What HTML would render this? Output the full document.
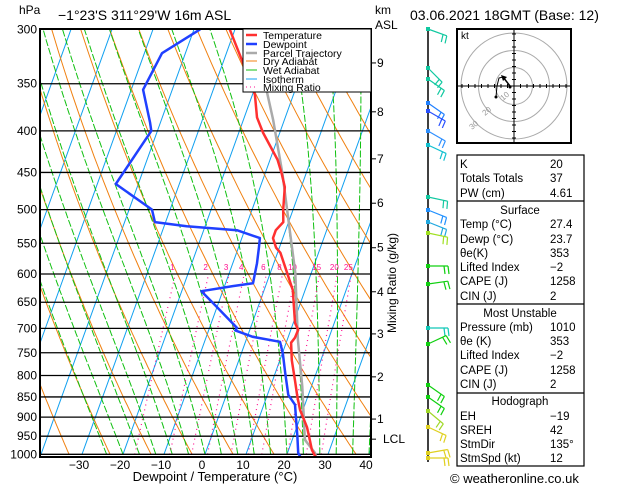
<!DOCTYPE html>
<html><head><meta charset="utf-8">
<style>
html,body{margin:0;padding:0;background:#fff;}
svg{display:block;font-family:"Liberation Sans",sans-serif;}
</style></head>
<body>
<svg id="chart" width="629" height="486" viewBox="0 0 629 486" xmlns="http://www.w3.org/2000/svg">
<defs><clipPath id="plotclip"><rect x="40" y="29" width="331" height="428"/></clipPath></defs>
<rect width="629" height="486" fill="#fff"/>
<g id="bg" clip-path="url(#plotclip)"></g>
<g id="iso"></g>
<g id="profiles" clip-path="url(#plotclip)"></g>
<rect x="40" y="29" width="331" height="428" fill="none" stroke="#000" stroke-width="2"/>
<g id="axes"></g>

<text x="19" y="14" font-size="12">hPa</text>
<text x="58" y="20" font-size="14">−1°23'S  311°29'W  16m ASL</text>
<text x="375" y="14" font-size="12">km</text>
<text x="375" y="29" font-size="12">ASL</text>
<text x="410" y="20" font-size="14">03.06.2021  18GMT  (Base: 12)</text>
<text x="396" y="283" font-size="12" transform="rotate(-90 396 283)" text-anchor="middle">Mixing Ratio  (g/kg)</text>
<text x="215" y="481" font-size="13" text-anchor="middle">Dewpoint  /  Temperature  (°C)</text>

<g>
<rect x="243" y="29" width="128" height="63" fill="#fff" stroke="#000" stroke-width="1"/>
<g font-size="10.5">
<line x1="246" y1="35" x2="257" y2="35" stroke="#ff3030" stroke-width="2.5"/>
<text x="263" y="39">Temperature</text>
<line x1="246" y1="44" x2="257" y2="44" stroke="#2040ff" stroke-width="2.5"/>
<text x="263" y="48">Dewpoint</text>
<line x1="246" y1="53" x2="257" y2="53" stroke="#aaa" stroke-width="2.5"/>
<text x="263" y="57">Parcel Trajectory</text>
<line x1="246" y1="61" x2="257" y2="61" stroke="#f08010" stroke-width="1"/>
<text x="263" y="65">Dry Adiabat</text>
<line x1="246" y1="70" x2="257" y2="70" stroke="#10c010" stroke-width="1"/>
<text x="263" y="74">Wet Adiabat</text>
<line x1="246" y1="79" x2="257" y2="79" stroke="#10a0f0" stroke-width="1"/>
<text x="263" y="83">Isotherm</text>
<line x1="246" y1="87" x2="257" y2="87" stroke="#ff1090" stroke-width="1" stroke-dasharray="1,3"/>
<text x="263" y="91">Mixing Ratio</text>
</g></g>

<line x1="428" y1="29" x2="428" y2="462" stroke="#000" stroke-width="1.5"/>
<g id="barbs"></g>

<g>
<rect x="457" y="29" width="114" height="114" fill="#fff" stroke="#000" stroke-width="2"/>
<g fill="none" stroke="#aaa" stroke-width="1">
<circle cx="514" cy="86" r="18.5"/>
<circle cx="514" cy="86" r="35.5"/>
<circle cx="514" cy="86" r="53"/>
</g>
<g id="hodoaxes" stroke="#000" stroke-width="1"></g>
<text x="461" y="39" font-size="10">kt</text>
<g font-size="8" fill="#999">
<text x="503" y="101" transform="rotate(-40 503 101)">10</text>
<text x="485" y="116" transform="rotate(-40 485 116)">20</text>
<text x="472" y="130" transform="rotate(-40 472 130)">30</text>
</g>
<polyline points="496,97 497,86 499,78 503,77" fill="none" stroke="#000" stroke-width="1"/>
<line x1="503" y1="77" x2="510" y2="86" stroke="#000" stroke-width="1.5"/>
<polygon points="501,75 507,77 503,81" fill="#000"/>
<circle cx="496" cy="97" r="1.5" fill="#000"/>
<circle cx="510" cy="87" r="1.5" fill="#000"/>
</g>

<g font-size="11.5">
<rect x="457" y="155" width="127" height="311" fill="none" stroke="#000" stroke-width="1.2"/>
<line x1="457" y1="201" x2="584" y2="201" stroke="#000" stroke-width="1.2"/>
<line x1="457" y1="304" x2="584" y2="304" stroke="#000" stroke-width="1.2"/>
<line x1="457" y1="393" x2="584" y2="393" stroke="#000" stroke-width="1.2"/>
<g id="tablerows"></g>
</g>
<text x="450" y="483" font-size="13">© weatheronline.co.uk</text>
</svg>
<script>
// ---- data ----
const pressureTicks = [300,350,400,450,500,550,600,650,700,750,800,850,900,950,1000];
const tempTicks = [-30,-20,-10,0,10,20,30,40];
const kmLabels = ["9","8","7","6","5","4","3","2","1","LCL"];
const kmPressures = [330,379,433,491,557,631,711,803,905,958];
const mixRatios = [1,2,3,4,6,8,10,15,20,25];
const tempP = [300,330,361,385,402,434,451,469,500,518,530,542,557,565,598,628,689,703,719,729,766,810,850,882,926,960,988,1010];
const tempT = [-31.3,-25.1,-19.4,-16.9,-14.1,-8.2,-6.0,-4.0,-2.4,-1.3,-2.4,-2.4,-0.8,0.7,4.1,7.0,10.4,11.8,11.7,11.2,12.9,15.4,17.5,19.3,22.5,24.3,25.7,27.4];
const dewP = [300,321,356,391,400,465,500,518,524,530,542,557,582,616,621,630,659,699,704,717,727,751,794,845,869,952,996,1010];
const dewT = [-38.5,-45.7,-47.1,-42.5,-41.5,-45.5,-34.4,-32.6,-24.5,-11.9,-5.6,-5.0,-4.1,-3.3,-8.0,-15.2,-10.0,-3.3,-3.5,1.4,8.4,10.1,12.4,15.1,17.6,21.0,22.6,23.7];
const parcelP = [350,359,388,452,534,598,723,826,907,960,996,1010];
const parcelT = [-17.9,-16.6,-12.7,-5.7,1.3,6.1,12.6,17.8,21.1,23.1,26.7,27.4];
const barbY = [29,68,79,103,111,131,145,197,210,222,233,266,284,328,344,385,397,411,427,453,458];
const barbAng = [20,45,35,35,30,30,25,12,22,22,12,0,-8,0,-25,35,35,40,25,-10,0];
const barbCol = ["#10c8a0","#10c8a0","#10c8a0","#2080ff","#2850ff","#3090ff","#10c0d0","#10c8a0","#2090ff","#20a8e0","#a0e020","#10d010","#10d010","#10c8b8","#10d010","#10d010","#10d010","#a0d828","#e0d020","#e0d020","#e0d020"];
const tableLabels = ["K","Totals Totals","PW (cm)","","Temp (°C)","Dewp (°C)","θe(K)","Lifted Index","CAPE (J)","CIN (J)","","Pressure (mb)","θe (K)","Lifted Index","CAPE (J)","CIN (J)","","EH","SREH","StmDir","StmSpd (kt)"];
const tableValues = ["20","37","4.61","Surface","27.4","23.7","353","−2","1258","2","Most Unstable","1010","353","−2","1258","2","Hodograph","−19","42","135°","12"];
const tableY = [168,182,197,214,228,243,257,271,285,300,317,331,345,359,374,388,405,420,434,448,462];

// ---- axis functions ----
const NS="http://www.w3.org/2000/svg";
function yP(p){return 29.3+353*Math.log(p/300);}
function xT(T,p){return 205+4.1*T+0.36*(454.3-yP(p));}
function mk(tag,attrs,parent){const e=document.createElementNS(NS,tag);for(const k in attrs)e.setAttribute(k,attrs[k]);parent.appendChild(e);return e;}
const bg=document.getElementById('bg'),iso=document.getElementById('iso'),prof=document.getElementById('profiles'),axes=document.getElementById('axes');

// isotherms
for(let T=-130;T<=50;T+=10){
  const l=mk('line',{x1:xT(T,1000),y1:yP(1000),x2:xT(T,300),y2:yP(300),stroke:'#10a0f0','stroke-width':1},bg);
  
  
}
// dry adiabats
for(let th=220;th<=500;th+=10){
  let pts=[];for(let p=1000;p>=300;p-=10){const T=th*Math.pow(p/1000,0.286)-273.15;pts.push(xT(T,p).toFixed(1)+','+yP(p).toFixed(1));}
  const l=mk('polyline',{points:pts.join(' '),fill:'none',stroke:'#f08010','stroke-width':1},bg);
  
  
}
// wet adiabats
function es(Tc){return 6.112*Math.exp(17.67*Tc/(Tc+243.5));}
for(let t0=-24;t0<=40;t0+=4){
  let T=t0+273.15,pts=[];
  for(let p=1000;p>=300;p-=5){
    pts.push(xT(T-273.15,p).toFixed(1)+','+yP(p).toFixed(1));
    const e=es(T-273.15),rs=0.622*e/(p-e);
    const dTdp=(287*T+2.5e6*rs)/(p*(1004+2.5e6*2.5e6*rs*0.622/(287*T*T)));
    T-=dTdp*5;
  }
  const l=mk('polyline',{points:pts.join(' '),fill:'none',stroke:'#10c010','stroke-width':1,'stroke-dasharray':'7,2'},bg);
  
  
}
// mixing ratio lines
mixRatios.forEach(w=>{
  let pts=[];
  for(let p=1000;p>=600;p-=10){const e=w*p/(622+w),L=Math.log(e/6.112),Td=243.5*L/(17.67-L);pts.push(xT(Td,p).toFixed(1)+','+yP(p).toFixed(1));}
  const l=mk('polyline',{points:pts.join(' '),fill:'none',stroke:'#ff1090','stroke-width':1.2,'stroke-dasharray':'1,4'},bg);
  
  
  const e=w*600/(622+w),L=Math.log(e/6.112),Td=243.5*L/(17.67-L);
  const t=mk('text',{x:xT(Td,600)-3,y:270,'font-size':8,fill:'#ff1090','text-anchor':'middle'},bg);
  t.textContent=w;
  
  
});
// isobars and pressure labels
pressureTicks.forEach(p=>{
  const l=mk('line',{x1:40,y1:yP(p),x2:371,y2:yP(p),stroke:'#000','stroke-width':1.3},iso);
  
  
  const t=mk('text',{x:37,y:yP(p)+4,'font-size':12,'text-anchor':'end'},axes);
  t.textContent=p;
  
  
});
// temperature ticks
tempTicks.forEach(T=>{
  const x=xT(T,1000);
  const t=mk('text',{x:x-3,y:469,'font-size':12,'text-anchor':'middle'},axes);
  t.textContent=(T<0?'−':'')+Math.abs(T);
  
  
});
// km axis
kmLabels.forEach((k,i)=>{
  const y=yP(kmPressures[i]);
  const l=mk('line',{x1:371,y1:y,x2:376,y2:y,stroke:'#000','stroke-width':1},axes);
  
  
  const t=mk('text',{x:k==='LCL'?383:377,y:y+4,'font-size':12},axes);
  t.textContent=k;
  
  
});
// profiles
function line(P,T,col,w,name){
  const pts=P.map((p,i)=>xT(T[i],p).toFixed(1)+','+yP(p).toFixed(1)).join(' ');
  const l=mk('polyline',{points:pts,fill:'none',stroke:col,'stroke-width':w,'stroke-linejoin':'round'},prof);
  
  
}
line(parcelP,parcelT,'#aaaaaa',2.5,'parcel-trajectory');
line(tempP,tempT,'#ff3030',2.5,'temperature-line');
line(dewP,dewT,'#2040ff',2.5,'dewpoint-line');

// wind barbs
const bb=document.getElementById('barbs');
barbY.forEach((y,i)=>{
  const a=barbAng[i]*Math.PI/180,L=20,c=barbCol[i];
  const x2=428+L*Math.cos(a),y2=y+L*Math.sin(a);
  const g=mk('g',{stroke:c,'stroke-width':1.2,fill:'none'},bb);
  
  
  mk('line',{x1:428,y1:y,x2:x2,y2:y2},g);
  for(let k=0;k<2;k++){
    const bx=428+(L-k*4)*Math.cos(a),by=y+(L-k*4)*Math.sin(a);
    mk('line',{x1:bx,y1:by,x2:bx-8*Math.sin(a)+1,y2:by+8*Math.cos(a)},g);
  }
  mk('rect',{x:426,y:y-2,width:4,height:4,fill:c,stroke:'none'},g);
});
// hodograph axes
const ha=document.getElementById('hodoaxes');
mk('line',{x1:457,y1:86,x2:571,y2:86},ha);
mk('line',{x1:514,y1:29,x2:514,y2:143},ha);
for(let d=-52;d<=52;d+=6.5){if(Math.abs(d)<1)continue;
  mk('line',{x1:514+d,y1:84,x2:514+d,y2:88},ha);
  mk('line',{x1:512,y1:86+d,x2:516,y2:86+d},ha);}
// table
const tr=document.getElementById('tablerows');
tableLabels.forEach((lab,i)=>{
  const y=tableY[i];
  if(lab===''){
    const t=mk('text',{x:520,y:y,'text-anchor':'middle'},tr);
    t.textContent=tableValues[i];
    
    
  } else {
    const t=mk('text',{x:460,y:y},tr);
    t.textContent=lab;
    
    
    const v=mk('text',{x:550,y:y},tr);
    v.textContent=tableValues[i];
    
    
  }
});
</script>
</body></html>
